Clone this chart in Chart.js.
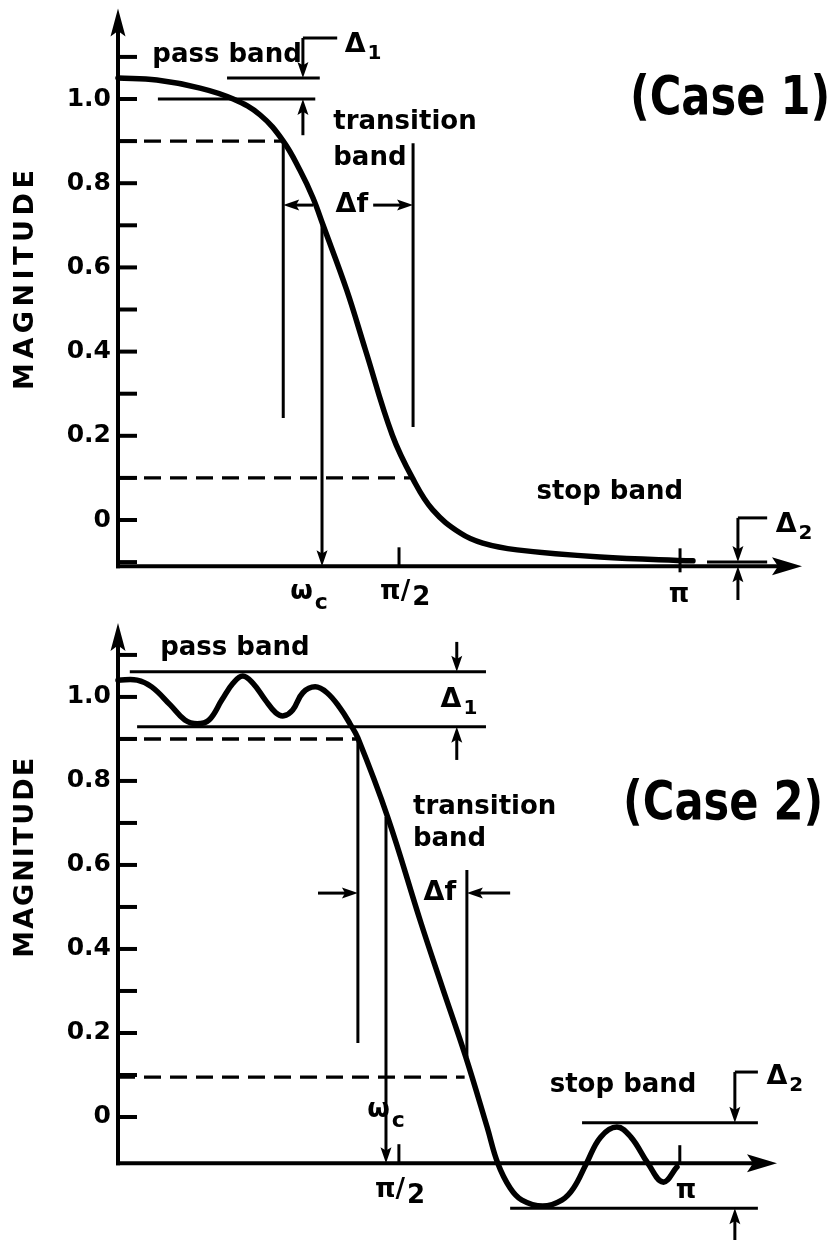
<!DOCTYPE html>
<html><head><meta charset="utf-8">
<script src="https://cdn.jsdelivr.net/npm/chart.js@4.4.1/dist/chart.umd.min.js"></script>
<style>
html,body{margin:0;padding:0;background:#fff;width:832px;height:1240px;overflow:hidden}
#c1{position:absolute;left:0;top:0}
#c2{position:absolute;left:0;top:610px}
</style></head><body>
<canvas id="c1" width="832" height="610"></canvas>
<canvas id="c2" width="832" height="630"></canvas>
<script>
// ---------- shared axis data ----------
const yLabelValues = [0, 0.2, 0.4, 0.6, 0.8, 1.0];
const yLabelTexts  = ['0', '0.2', '0.4', '0.6', '0.8', '1.0'];
const axisTitle = 'MAGNITUDE';
const xAxisLevel = -0.11;

// ---------- Case 1 ----------
const case1X = [0, 0.069, 0.146, 0.205, 0.253, 0.294, 0.324, 0.347, 0.365, 0.407, 0.44, 0.488, 0.525, 0.56, 0.609, 0.649, 0.71, 0.858, 1.023];
const case1Y = [1.05, 1.045, 1.026, 1.0, 0.962, 0.90, 0.83, 0.765, 0.70, 0.546, 0.405, 0.202, 0.097, 0.024, -0.031, -0.055, -0.071, -0.088, -0.097];
const case1MinorTicks = [-0.1, 0, 0.1, 0.2, 0.3, 0.4, 0.5, 0.6, 0.7, 0.8, 0.9, 1.0, 1.1];
const case1XTicks = [0.5, 1.0];
const case1XLabelMain = ['ω', 'π/', 'π'];
const case1XLabelSub  = ['c', '2', ''];
const case1XLabelX    = [0.340, 0.511, 0.998];
const case1XLabelY    = [-0.171, -0.171, -0.178];
const case1Solid = [[0.194,1.05,0.359,1.05],[0.071,1.0,0.351,1.0],[0.329,1.145,0.390,1.145],[0.294,0.90,0.294,0.242],[0.525,0.895,0.525,0.221],[1.048,-0.1,1.155,-0.1],[1.103,0.005,1.155,0.005]];
const case1Dashed = [[0,0.9,0.294,0.9],[0,0.1,0.525,0.1]];
const case1Arrows = [[0.329,1.145,0.329,1.05],[0.329,0.914,0.329,1.0],[0.363,0.70,0.363,-0.11],[0.347,0.748,0.294,0.748],[0.454,0.748,0.525,0.748],[1.103,0.005,1.103,-0.1],[1.103,-0.19,1.103,-0.11]];
const case1Texts = ['pass band', 'transition', 'band', 'stop band'];
const case1TextX = [0.194, 0.383, 0.383, 0.875];
const case1TextY = [1.105, 0.945, 0.86, 0.067];
const case1TextAlign = ['center', 'left', 'left', 'center'];
const case1DeltaMain = ['Δ', 'Δf', 'Δ'];
const case1DeltaSub  = ['1', '', '2'];
const case1DeltaX = [0.436, 0.416, 1.203];
const case1DeltaY = [1.128, 0.748, -0.012];
const case1Title = '(Case 1)';
const case1TitleX = 1.089, case1TitleY = 0.998;

// ---------- Case 2 ----------
const case2X = [0, 0.034, 0.060, 0.093, 0.119, 0.141, 0.162, 0.185, 0.205, 0.222, 0.240, 0.262, 0.281, 0.295, 0.311, 0.329, 0.351, 0.372, 0.395, 0.413, 0.427, 0.480, 0.539, 0.577, 0.619, 0.657, 0.676, 0.698, 0.719, 0.756, 0.790, 0.811, 0.834, 0.859, 0.888, 0.913, 0.943, 0.970, 0.995];
const case2Y = [1.04, 1.04, 1.024, 0.981, 0.945, 0.936, 0.945, 0.993, 1.033, 1.05, 1.033, 0.993, 0.962, 0.955, 0.969, 1.01, 1.024, 1.01, 0.974, 0.936, 0.902, 0.714, 0.463, 0.310, 0.143, -0.024, -0.110, -0.169, -0.198, -0.212, -0.198, -0.169, -0.110, -0.048, -0.024, -0.048, -0.110, -0.155, -0.119];
const case2MinorTicks = [0, 0.1, 0.2, 0.3, 0.4, 0.5, 0.6, 0.7, 0.8, 0.9, 1.0, 1.1];
const case2XTicks = [0.5, 1.0];
const case2XLabelMain = ['ω', 'π/', 'π'];
const case2XLabelSub  = ['c', '2', ''];
const case2XLabelX    = [0.477, 0.502, 1.011];
const case2XLabelY    = [0.017, -0.174, -0.176];
const case2Solid = [[0.021,1.06,0.655,1.06],[0.034,0.929,0.655,0.929],[0.427,0.902,0.427,0.176],[0.621,0.588,0.621,0.143],[0.826,-0.014,1.139,-0.014],[0.698,-0.217,1.139,-0.217],[1.098,0.107,1.139,0.107]];
const case2Dashed = [[0,0.9,0.427,0.9],[0,0.095,0.617,0.095]];
const case2Arrows = [[0.603,1.131,0.603,1.06],[0.603,0.85,0.603,0.929],[0.477,0.714,0.477,-0.11],[0.356,0.533,0.427,0.533],[0.698,0.533,0.621,0.533],[1.098,0.107,1.098,-0.014],[1.098,-0.293,1.098,-0.217]];
const case2Texts = ['pass band', 'transition', 'band', 'stop band'];
const case2TextX = [0.208, 0.525, 0.525, 0.899];
const case2TextY = [1.117, 0.738, 0.66, 0.076];
const case2TextAlign = ['center', 'left', 'left', 'center'];
const case2DeltaMain = ['Δ', 'Δf', 'Δ'];
const case2DeltaSub  = ['1', '', '2'];
const case2DeltaX = [0.607, 0.573, 1.187];
const case2DeltaY = [0.993, 0.533, 0.095];
const case2Title = '(Case 2)';
const case2TitleX = 1.077, case2TitleY = 0.743;

// ---------- drawing helpers ----------
const FAM = '"DejaVu Sans"';
function seg(ctx,x1,y1,x2,y2){ctx.beginPath();ctx.moveTo(x1,y1);ctx.lineTo(x2,y2);ctx.stroke();}
function head(ctx,x1,y1,x2,y2,len,hw){
  const a=Math.atan2(y2-y1,x2-x1);
  ctx.save();ctx.translate(x2,y2);ctx.rotate(a);
  ctx.beginPath();ctx.moveTo(0,0);ctx.lineTo(-len,-hw);ctx.lineTo(-len*0.8,0);ctx.lineTo(-len,hw);ctx.closePath();ctx.fill();
  ctx.restore();
}
function arrow(ctx,x1,y1,x2,y2,len,hw){
  const a=Math.atan2(y2-y1,x2-x1);
  seg(ctx,x1,y1,x2-Math.cos(a)*len*0.7,y2-Math.sin(a)*len*0.7);
  head(ctx,x1,y1,x2,y2,len,hw);
}
function subText(ctx,main,sub,cx,cy,size,subSize,drop){
  ctx.textAlign='left';ctx.textBaseline='middle';
  ctx.font=`bold ${size}px ${FAM}`;const w1=ctx.measureText(main).width;
  ctx.font=`bold ${subSize}px ${FAM}`;const w2=sub?ctx.measureText(sub).width+2:0;
  const x0=cx-(w1+w2)/2;
  ctx.font=`bold ${size}px ${FAM}`;ctx.fillText(main,x0,cy);
  if(sub){ctx.font=`bold ${subSize}px ${FAM}`;ctx.fillText(sub,x0+w1+2,cy+drop);}
}

function decoPlugin(c){
  return {id:'deco',afterDatasetsDraw(chart){
    const ctx=chart.ctx, xs=chart.scales.x, ys=chart.scales.y;
    const X=v=>xs.getPixelForValue(v), Y=v=>ys.getPixelForValue(v);
    ctx.save();ctx.strokeStyle='#000';ctx.fillStyle='#000';ctx.lineCap='butt';
    const ax=X(0), ay=Y(xAxisLevel);
    ctx.lineWidth=4;
    arrow(ctx,ax,ay+2,ax,Y(c.yMax),28,7.5);
    arrow(ctx,ax-2,ay,X(c.xMax),ay,30,9);
    c.minor.forEach(v=>seg(ctx,ax,Y(v),ax+19,Y(v)));
    ctx.lineWidth=3;
    seg(ctx,X(c.xTicks[0]),ay,X(c.xTicks[0]),ay-19);
    seg(ctx,X(c.xTicks[1]),ay-18,X(c.xTicks[1]),ay+c.piBelow);
    ctx.lineWidth=3;
    c.solid.forEach(s=>seg(ctx,X(s[0]),Y(s[1]),X(s[2]),Y(s[3])));
    ctx.save();ctx.lineWidth=3.4;ctx.setLineDash([17,9]);
    c.dashed.forEach(s=>seg(ctx,X(s[0]),Y(s[1]),X(s[2]),Y(s[3])));
    ctx.restore();
    ctx.lineWidth=3;
    c.arrows.forEach(s=>arrow(ctx,X(s[0]),Y(s[1]),X(s[2]),Y(s[3]),16,5.5));
    ctx.font=`bold 26px ${FAM}`;ctx.textBaseline='middle';
    c.texts.forEach((t,i)=>{ctx.textAlign=c.textAlign[i];ctx.fillText(t,X(c.textX[i]),Y(c.textY[i]));});
    c.dMain.forEach((t,i)=>subText(ctx,t,c.dSub[i],X(c.dX[i]),Y(c.dY[i]),27,20,9));
    c.xlMain.forEach((t,i)=>{
      const isW=t==='ω';
      subText(ctx,t,c.xlSub[i],X(c.xlX[i]),Y(c.xlY[i]),26,isW?22:26,isW?11:6);
    });
    ctx.save();ctx.translate(X(c.titleX),Y(c.titleY));ctx.scale(0.98,1.2);
    ctx.font=`bold 44px ${FAM}`;ctx.textAlign='center';ctx.textBaseline='middle';
    ctx.fillText(c.title,0,0);ctx.restore();
    ctx.save();ctx.translate(26,Y(c.axTitleY));ctx.rotate(-Math.PI/2);
    ctx.font=`bold 27px ${FAM}`;ctx.letterSpacing=c.axSpacing+'px';
    ctx.textAlign='center';ctx.textBaseline='middle';ctx.fillText(axisTitle,c.axSpacing/2,0);ctx.restore();
    ctx.restore();
  }};
}

function makeChart(id,c){
  return new Chart(document.getElementById(id),{
    type:'line',
    data:{datasets:[{data:c.xs.map((x,i)=>({x,y:c.ys[i]})),borderColor:'#000',borderWidth:5.5,pointRadius:0,fill:false,
      tension:0.4,clip:false,borderCapStyle:'round',borderJoinStyle:'round'}]},
    options:{responsive:false,animation:false,devicePixelRatio:1,events:[],
      layout:{padding:{left:0,right:c.padRight,top:c.padTop,bottom:c.padBottom}},
      plugins:{legend:{display:false},tooltip:{enabled:false}},
      scales:{
        x:{type:'linear',display:false,min:0,max:c.xMax},
        y:{type:'linear',position:'left',min:c.yMin,max:c.yMax,
           grid:{display:false,drawTicks:false},border:{display:false},
           afterFit:s=>{s.width=118;s.paddingTop=0;s.paddingBottom=0;},
           afterBuildTicks:s=>{s.ticks=yLabelValues.map(v=>({value:v}));},
           ticks:{autoSkip:false,padding:7,color:'#000',font:{family:'DejaVu Sans',size:25,weight:'bold'},
             callback:(v,i)=>yLabelTexts[i]}}
      }},
    plugins:[decoPlugin(c)]
  });
}

makeChart('c1',{xs:case1X,ys:case1Y,xMax:1.217,yMin:-0.2,yMax:1.215,padTop:8.5,padBottom:5.8,padRight:30,
  minor:case1MinorTicks,xTicks:case1XTicks,piBelow:6,solid:case1Solid,dashed:case1Dashed,arrows:case1Arrows,
  texts:case1Texts,textX:case1TextX,textY:case1TextY,textAlign:case1TextAlign,
  dMain:case1DeltaMain,dSub:case1DeltaSub,dX:case1DeltaX,dY:case1DeltaY,
  xlMain:case1XLabelMain,xlSub:case1XLabelSub,xlX:case1XLabelX,xlY:case1XLabelY,
  title:case1Title,titleX:case1TitleX,titleY:case1TitleY,axTitleY:0.570,axSpacing:4.5});

makeChart('c2',{xs:case2X,ys:case2Y,xMax:1.173,yMin:-0.28,yMax:1.176,padTop:13,padBottom:5.4,padRight:55,
  minor:case2MinorTicks,xTicks:case2XTicks,piBelow:0,solid:case2Solid,dashed:case2Dashed,arrows:case2Arrows,
  texts:case2Texts,textX:case2TextX,textY:case2TextY,textAlign:case2TextAlign,
  dMain:case2DeltaMain,dSub:case2DeltaSub,dX:case2DeltaX,dY:case2DeltaY,
  xlMain:case2XLabelMain,xlSub:case2XLabelSub,xlX:case2XLabelX,xlY:case2XLabelY,
  title:case2Title,titleX:case2TitleX,titleY:case2TitleY,axTitleY:0.617,axSpacing:2});
</script>
</body></html>
